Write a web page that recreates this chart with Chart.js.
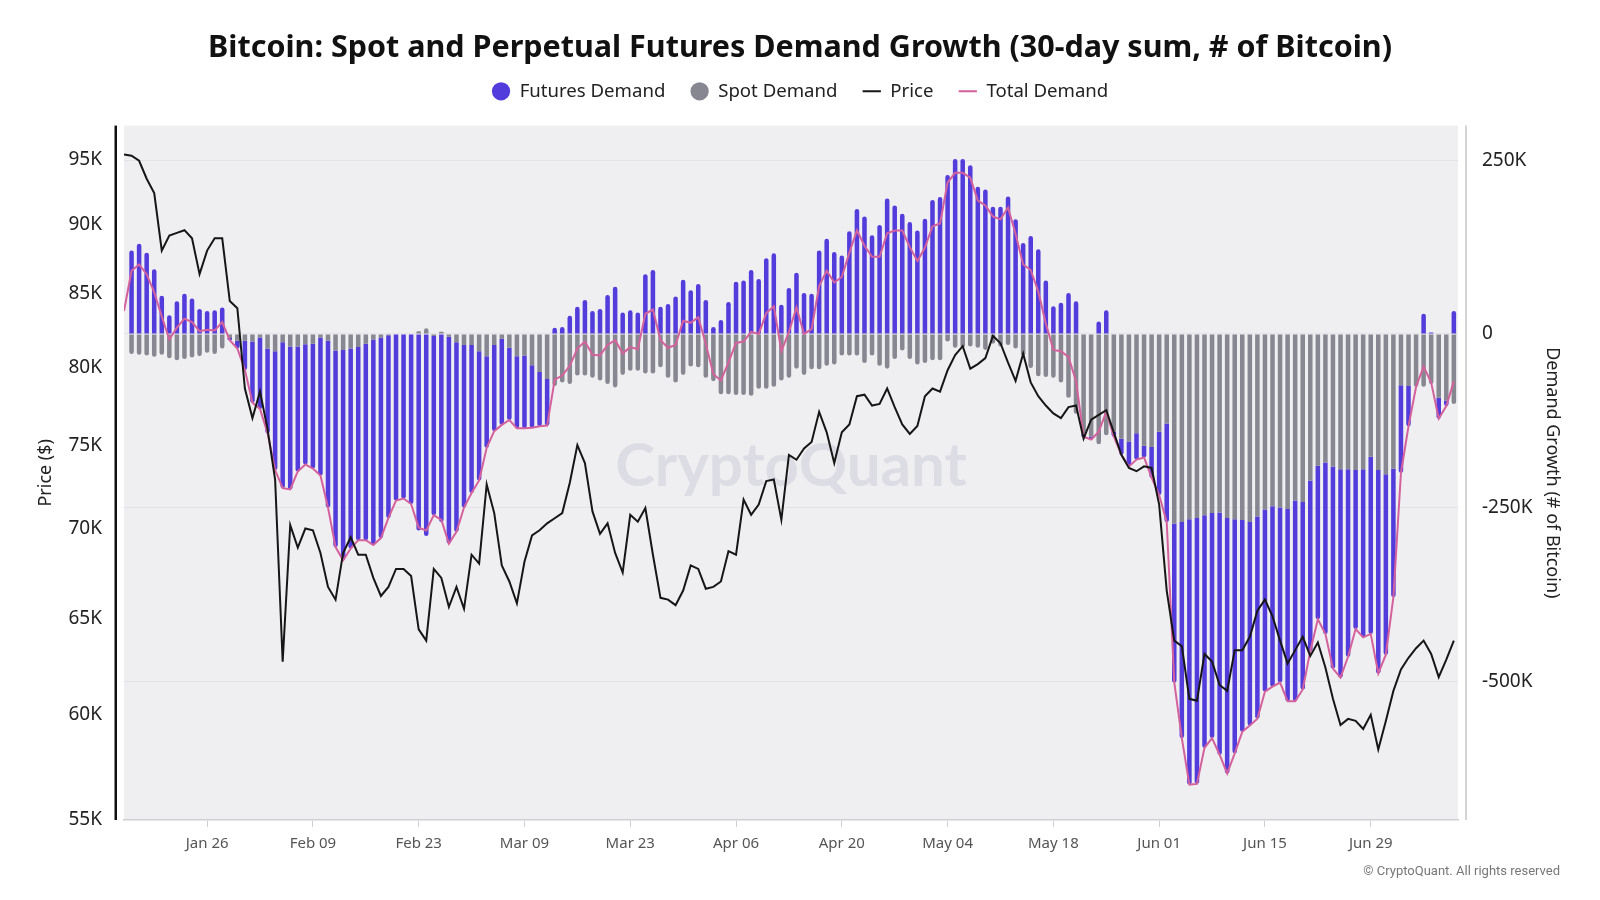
<!DOCTYPE html>
<html>
<head>
<meta charset="utf-8">
<script src="https://cdn.jsdelivr.net/npm/chart.js@4.4.1/dist/chart.umd.min.js"></script>
<style>
  html, body { margin: 0; padding: 0; background: #fff; }
  #wrap { width: 1600px; height: 900px; }
</style>
</head>
<body>
<div id="wrap"><canvas id="myChart" width="1600" height="900"></canvas></div>
<script>
// daily series, first day = Jan 15
const startDate = [2025, 0, 15];
const xTickLabels = ["Jan 26", "Feb 09", "Feb 23", "Mar 09", "Mar 23", "Apr 06", "Apr 20", "May 04", "May 18", "Jun 01", "Jun 15", "Jun 29"];
const priceTicks = [55, 60, 65, 70, 75, 80, 85, 90, 95];
const demandTicks = [-500, -250, 0, 250];

// 30-day sums, thousands of BTC
const futures = [null,120,130,117,93,55,27,47,58,51,36,33,34,38,-3,-11,-42,-88,-103,-122,
  -171,-210,-206,-180,-173,-180,-199,-240,-283,-303,-288,-278,-283,-296,-289,-263,-239,-236,-244,-283,
  -291,-258,-271,-298,-273,-234,-213,-186,-132,-124,-124,-104,-104,-105,-90,-78,-67,9,10,26,
  39,49,33,36,56,68,31,34,31,86,92,39,43,54,78,63,72,49,10,20,
  46,75,77,92,79,109,116,42,66,88,59,58,120,137,118,113,148,180,169,142,
  157,195,185,173,161,149,166,193,197,229,252,252,243,212,208,183,183,198,165,131,
  141,122,77,40,45,59,47,-3,-4,18,34,-7,-23,-36,-38,-17,-44,-91,-142,-229,
  -311,-382,-383,-335,-324,-349,-368,-337,-305,-293,-291,-262,-260,-252,-277,-289,-270,-246,-221,-247,
  -291,-300,-270,-229,-242,-255,-293,-260,-185,-126,-58,0,29,2,-30,-8,33];
const spot = [null,-29,-30,-31,-33,-30,-35,-38,-36,-34,-32,-27,-29,-21,-6,-10,-10,-11,-5,-21,
  -25,-12,-18,-18,-15,-14,-5,-10,-24,-23,-21,-19,-14,-8,-5,-2,-1,-1,-1,4,
  8,-3,3,-4,-12,-16,-16,-25,-32,-16,-7,-20,-32,-31,-45,-55,-65,-75,-70,-72,
  -60,-60,-63,-67,-72,-77,-59,-53,-53,-57,-57,-48,-63,-70,-59,-47,-48,-63,-68,-87,
  -87,-88,-88,-89,-79,-79,-76,-67,-63,-50,-59,-51,-51,-46,-44,-31,-31,-31,-42,-31,
  -46,-50,-36,-24,-36,-44,-42,-38,-38,-11,-20,-20,-18,-20,-23,-14,-18,-16,-21,-31,
  -49,-61,-62,-63,-70,-92,-115,-145,-148,-159,-146,-141,-151,-155,-143,-161,-163,-141,-129,-273,
  -271,-267,-265,-261,-258,-257,-265,-267,-268,-271,-263,-253,-248,-250,-252,-240,-242,-211,-190,-185,
  -191,-195,-195,-196,-195,-177,-196,-202,-194,-74,-75,-76,-76,-72,-92,-96,-101];
const total = [33,91,100,86,60,25,-8,9,22,17,4,6,5,17,-9,-21,-52,-99,-108,-143,
  -196,-222,-224,-198,-188,-194,-204,-250,-307,-326,-309,-297,-297,-304,-294,-265,-240,-237,-245,-279,
  -283,-261,-268,-302,-285,-250,-229,-211,-164,-140,-131,-124,-136,-136,-135,-133,-132,-66,-60,-46,
  -21,-11,-30,-31,-16,-9,-28,-19,-22,29,35,-9,-20,-16,19,16,24,-14,-58,-67,
  -41,-13,-11,3,0,30,40,-25,3,38,0,7,69,91,74,82,117,149,127,111,
  111,145,149,149,125,105,124,155,159,218,232,232,225,192,185,169,165,182,144,100,
  92,61,15,-23,-25,-33,-68,-148,-152,-141,-112,-148,-174,-191,-181,-178,-207,-232,-271,-502,
  -582,-649,-648,-596,-582,-606,-633,-604,-573,-564,-554,-515,-508,-502,-529,-529,-512,-457,-411,-432,
  -482,-495,-465,-425,-437,-432,-489,-462,-379,-200,-133,-76,-47,-70,-122,-104,-68];
// BTC price, thousands of USD
const price = [95.4,95.3,94.9,93.5,92.4,88.1,89.2,89.4,89.6,89.0,86.4,88.1,89.0,89.0,84.5,84.0,78.6,76.7,78.4,76.0,
  72.9,62.7,70.2,68.9,70.0,69.9,68.6,66.7,66.0,68.6,69.5,68.5,68.5,67.2,66.2,66.7,67.7,67.7,67.3,64.4,
  63.8,67.7,67.2,65.6,66.7,65.5,68.5,68.0,72.6,70.9,67.9,67.0,65.8,68.1,69.6,69.9,70.3,70.6,70.9,72.7,
  75.0,73.9,71.0,69.7,70.3,68.6,67.5,70.8,70.4,71.2,68.5,66.1,66.0,65.7,66.5,67.9,67.7,66.6,66.7,67.0,
  68.7,68.5,71.7,70.8,71.4,72.8,72.9,70.5,74.4,74.1,74.8,75.2,77.1,75.8,73.9,75.8,76.3,78.1,78.2,77.5,
  77.6,78.6,77.4,76.3,75.7,76.2,78.1,78.6,78.4,79.8,80.8,81.4,79.9,80.2,80.6,82.1,81.6,80.3,79.1,80.9,
  79.0,78.1,77.5,77.0,76.7,77.4,77.5,75.4,76.6,76.9,77.2,75.8,74.4,73.6,73.4,73.7,73.6,71.4,66.5,63.8,
  63.5,60.8,60.7,63.1,62.7,61.5,61.2,63.3,63.3,64.0,65.4,66.0,65.1,63.8,62.6,63.3,64.0,63.0,63.7,62.4,
  60.8,59.5,59.8,59.7,59.3,60.0,58.3,59.7,61.2,62.3,62.9,63.4,63.8,63.1,61.9,62.8,63.8];

const MONTHS = ["Jan","Feb","Mar","Apr","May","Jun","Jul","Aug","Sep","Oct","Nov","Dec"];
const dayLabels = price.map((p, i) => {
  const d = new Date(Date.UTC(startDate[0], startDate[1], startDate[2] + i));
  return MONTHS[d.getUTCMonth()] + " " + String(d.getUTCDate()).padStart(2, "0");
});
const dayIndex = price.map((p, i) => i);
const tickIndex = xTickLabels.map(l => dayLabels.indexOf(l));

const FONT = "'Noto Sans', 'DejaVu Sans', sans-serif";
Chart.defaults.font.family = FONT;
Chart.defaults.color = "#222";

const decor = {
  id: "decor",
  beforeInit(chart) {
    // leave a gap between the legend and the plot
    const lg = chart.legend;
    if (lg) {
      const fit = lg.fit;
      lg.fit = function () { fit.call(this); this.height += 15; };
    }
  },
  beforeDraw(chart) {
    const { ctx, chartArea: a } = chart;
    ctx.save();
    ctx.fillStyle = "#efeff2";
    ctx.fillRect(a.left, a.top, a.right - a.left, a.bottom - a.top);
    ctx.fillStyle = "#111";
    ctx.fillRect(a.left - 9.5, a.top, 2.5, a.bottom - a.top);
    ctx.fillStyle = "#d3d3d8";
    ctx.fillRect(a.right + 7, a.top, 2, a.bottom - a.top);
    ctx.restore();
  },
  beforeDatasetsDraw(chart) {
    const { ctx, chartArea: a } = chart;
    ctx.save();
    ctx.font = "bold 60px Lato, " + FONT;
    ctx.fillStyle = "#dcdce4";
    ctx.textAlign = "center";
    ctx.textBaseline = "middle";
    ctx.fillText("CryptoQuant", (a.left + a.right) / 2, (a.top + a.bottom) / 2 - 6);
    ctx.restore();
  },
  afterDraw(chart) {
    const { ctx } = chart;
    ctx.save();
    ctx.font = "13px Roboto, " + FONT;
    ctx.fillStyle = "#777";
    ctx.textAlign = "right";
    ctx.textBaseline = "middle";
    ctx.fillText("\u00A9 CryptoQuant. All rights reserved", 1560, 872);
    ctx.restore();
  }
};

new Chart(document.getElementById("myChart"), {
  type: "bar",
  data: {
    labels: dayIndex,
    datasets: [
      {
        type: "bar", label: "Futures Demand", data: futures, yAxisID: "y1", stack: "demand",
        backgroundColor: "#523cdb", borderWidth: 0, borderRadius: 2.5,
        barPercentage: 0.75, categoryPercentage: 0.8, pointStyle: "circle", order: 3
      },
      {
        type: "bar", label: "Spot Demand", data: spot, yAxisID: "y1", stack: "demand",
        backgroundColor: "#878791", borderWidth: 0, borderRadius: 2.5,
        barPercentage: 0.75, categoryPercentage: 0.8, pointStyle: "circle", order: 2
      },
      {
        type: "line", label: "Price", data: price, yAxisID: "y",
        borderColor: "#161616", backgroundColor: "#161616", borderWidth: 2,
        pointRadius: 0, pointStyle: "line", tension: 0, order: 0
      },
      {
        type: "line", label: "Total Demand", data: total, yAxisID: "y1",
        borderColor: "#d4619b", backgroundColor: "#d4619b", borderWidth: 2,
        pointRadius: 0, pointStyle: "line", tension: 0, order: 1
      }
    ]
  },
  options: {
    responsive: false,
    animation: false,
    devicePixelRatio: 1,
    layout: { padding: 0 },
    plugins: {
      title: {
        display: true,
        text: "Bitcoin: Spot and Perpetual Futures Demand Growth (30-day sum, # of Bitcoin)",
        color: "#111",
        font: { size: 30.5, weight: "bold", lineHeight: 0.59 },
        padding: { top: 39, bottom: 0 }
      },
      legend: {
        position: "top",
        labels: {
          usePointStyle: true,
          boxWidth: 18.6,
          boxHeight: 12.9,
          padding: 25,
          color: "#222",
          font: { size: 18.6 },
          sort: (a, b) => a.datasetIndex - b.datasetIndex
        }
      },
      tooltip: { enabled: false }
    },
    scales: {
      x: {
        type: "linear",
        min: 0,
        max: 176.55,
        offset: false,
        afterBuildTicks: axis => { axis.ticks = tickIndex.map(v => ({ value: v })); },
        afterFit: axis => { axis.height = 80; },
        ticks: {
          autoSkip: false,
          maxRotation: 0,
          padding: 8,
          color: "#555",
          font: { size: 15 },
          callback: v => dayLabels[v]
        },
        grid: { offset: false, drawOnChartArea: false, color: "#cfcfd4", tickLength: 7 },
        border: { color: "#cfcfd4", width: 1.5 }
      },
      y: {
        type: "logarithmic",
        position: "left",
        min: 55,
        max: 97.7,
        afterBuildTicks: axis => { axis.ticks = priceTicks.map(v => ({ value: v })); },
        afterFit: axis => { axis.width = 124; },
        ticks: { padding: 22, color: "#222", font: { size: 19 }, callback: v => v + "K" },
        title: { display: true, text: "Price ($)", color: "#222", font: { size: 18 }, padding: { top: 35, bottom: 0 } },
        grid: { display: false, drawTicks: false },
        border: { display: false }
      },
      y1: {
        type: "linear",
        position: "right",
        min: -700,
        max: 300,
        afterBuildTicks: axis => { axis.ticks = demandTicks.map(v => ({ value: v })); },
        afterFit: axis => { axis.width = 142; },
        ticks: {
          padding: 24,
          color: "#222",
          font: { size: 19 },
          callback: v => (v === 0 ? "0" : v + "K")
        },
        title: { display: true, text: "Demand Growth (# of Bitcoin)", color: "#222", font: { size: 18 }, padding: { top: 37, bottom: 0 } },
        grid: { color: "#e2e2e7", drawTicks: false },
        border: { display: false }
      }
    }
  },
  plugins: [decor]
});
</script>
</body>
</html>
